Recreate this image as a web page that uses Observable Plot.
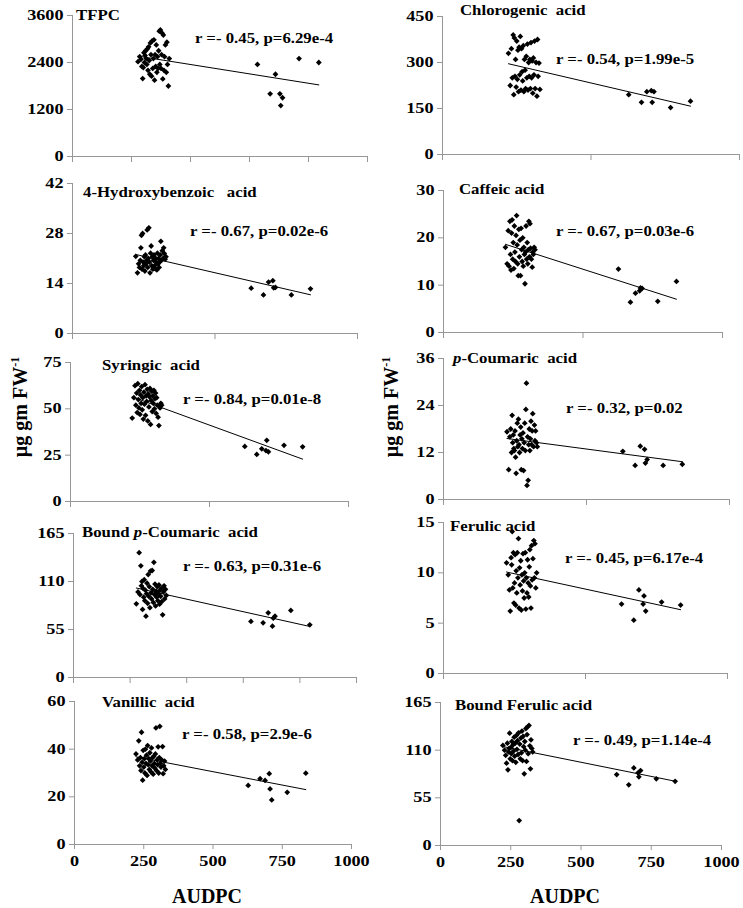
<!DOCTYPE html>
<html>
<head>
<meta charset="utf-8">
<script src="https://cdn.jsdelivr.net/npm/d3@7"></script>
<script src="https://cdn.jsdelivr.net/npm/@observablehq/plot@0.6"></script>
<style>
  body { margin: 0; background: #fff; }
  #chart { position: relative; width: 743px; height: 908px; overflow: hidden; background: #fff; }
</style>
</head>
<body>
<div id="chart"></div>
<script>
// ---------------- DATA ----------------
// AUDPC (shared x values for all genotypes)
const audpc = [222,228,232,235,238,240,242,244,246,248,250,252,254,256,258,260,262,264,266,268,270,272,274,276,278,280,282,284,286,288,290,292,294,296,298,300,302,304,306,308,310,312,315,318,320,322,325,328,
               627,670,688,703,706,712,768,835];

const tfpc = [2420,2550,2480,2300,1990,2270,2650,2400,2580,2700,2500,2350,2750,2200,2800,2450,2100,2900,2600,2050,2950,2250,2500,2980,1950,2600,2300,2850,2150,2550,2250,2700,3200,2350,3230,2250,2600,3150,1980,3100,2200,2550,2850,2150,2920,2350,1800,2500,
              2350,1600,2100,1600,1300,1500,2500,2400];
const chlorogenic = [330,225,345,250,390,195,380,255,310,220,370,245,340,205,350,260,385,210,345,270,240,355,205,310,275,215,320,250,360,210,300,255,310,215,365,250,305,200,315,260,370,215,300,190,375,255,298,212,
              195,170,205,208,170,205,153,174];
const hydroxybenzoic = [21.6,17.0,19.5,18.5,20.5,24.0,27.5,18.0,28.0,20.0,19.0,21.5,17.5,22.0,19.5,20.5,29.0,18.5,21.0,29.6,20.0,17.0,22.5,24.5,19.0,21.5,18.0,20.5,22.0,19.0,18.2,21.0,20.0,17.8,22.5,19.5,21.0,18.5,20.0,22.0,25.8,20.5,23.2,21.0,24.0,22.4,20.8,21.5,
              12.7,10.8,14.4,14.8,12.8,12.9,10.8,12.5];
const caffeic = [18.0,14.5,21.5,14.0,23.5,16.5,13.2,21.0,23.8,15.5,19.0,13.5,22.5,17.0,15.0,20.5,24.7,18.5,14.5,12.0,21.8,16.0,19.5,12.0,22.0,17.5,15.0,20.0,14.0,18.0,16.5,10.3,17.0,22.5,15.5,19.0,14.5,17.5,23.5,16.0,23.0,17.8,15.5,13.8,17.0,16.5,18.0,17.5,
              13.4,6.4,8.3,8.8,9.4,9.3,6.6,10.8];
const syringic = [45.0,56.0,62.5,52.0,58.5,48.0,63.6,55.0,50.5,60.0,47.0,57.5,53.0,62.0,49.5,56.0,44.5,59.0,52.5,63.0,46.5,57.0,54.0,60.5,43.5,58.0,51.0,56.5,61.0,41.6,54.5,59.5,48.5,57.0,53.0,60.0,50.0,55.5,58.5,47.5,56.0,52.0,45.5,41.0,51.5,50.5,53.0,52.0,
              29.7,25.4,28.4,27.5,33.0,26.8,30.3,29.5];
const pCoumaric = [17.3,7.6,16.0,18.0,12.0,21.5,14.5,16.5,13.0,12.5,17.5,10.8,6.7,15.0,19.5,13.5,20.5,14.0,12.0,16.5,18.5,7.6,15.5,13.0,17.0,7.4,14.5,19.5,12.5,23.0,29.7,3.6,16.0,4.9,14.0,18.0,12.5,15.5,20.0,14.0,17.5,21.9,13.5,19.0,15.0,17.5,14.5,13.5,
              12.3,8.7,13.6,12.8,9.3,10.2,8.7,9.0];
const boundPCoumaric = [84.4,98,143,95,128,105,110,78,102,92,112,88,100,70.3,96,108,85,118,93,104,80,122,97,90,122.6,101,86,132,95,107,82,99,92,104,88,96,106,84,100,93,102,87,71.8,98,105,90,101,94,
              64.2,62.6,74.1,58.8,68.0,70.3,76.8,60.4];
const ferulic = [11.0,9.8,8.3,6.2,11.5,10.8,14.1,8.5,12.0,7.0,9.0,11.8,6.8,10.2,8.0,12.0,9.5,13.4,6.5,10.5,8.8,11.2,6.3,9.8,8.2,11.9,9.2,7.5,10.0,12.0,6.4,9.5,8.0,11.3,9.0,7.6,10.6,12.3,8.7,6.5,12.7,9.3,11.4,13.2,9.5,12.9,8.5,10.0,
              6.9,5.3,8.3,6.9,7.7,6.2,7.1,6.8];
const vanillic = [38.0,35.5,43.5,33.0,36.5,31.0,47.1,34.5,27.0,39.5,32.5,36.0,30.0,40.0,34.0,37.5,29.0,41.5,33.5,36.0,31.5,38.5,35.0,30.5,40.5,33.0,36.5,29.5,37.0,34.0,32.0,38.0,48.9,31.0,35.5,33.5,41.0,30.0,36.5,49.6,34.0,32.5,35.5,41.1,29.7,33.0,35.0,31.5,
              24.8,27.6,26.9,29.7,23.3,18.7,21.9,29.9];
const boundFerulic = [115.4,110,104,95,118,87.3,108,112,129.6,100,113,106,120,98,116,109,125,103,118,96,127,111,121,105,130,28.8,117,100,124,107,132,98,126,114,82.7,120,110,135,97,128,137,106,138.5,115,88.5,122,112,108,
              81.9,70.0,89.5,83.8,79.2,86.5,77.0,74.1];

const titles = ["TFPC","Chlorogenic  acid","4-Hydroxybenzoic   acid","Caffeic acid","Syringic  acid",
                "<i>p</i>-Coumaric  acid","Bound <i>p</i>-Coumaric  acid","Ferulic acid","Vanillic  acid","Bound Ferulic acid"];
const stats = ["r =- 0.45, p=6.29e-4","r =- 0.54, p=1.99e-5","r =- 0.67, p=0.02e-6","r =- 0.67, p=0.03e-6","r =- 0.84, p=0.01e-8",
               "r =- 0.32, p=0.02","r =- 0.63, p=0.31e-6","r =- 0.45, p=6.17e-4","r =- 0.58, p=2.9e-6","r =- 0.49, p=1.14e-4"];
const yTickSets = [[0,1200,2400,3600],[0,150,300,450],[0,14,28,42],[0,10,20,30],[0,25,50,75],
                   [0,12,24,36],[0,55,110,165],[0,5,10,15],[0,20,40,60],[0,55,110,165]];
const xTicks200 = [0,200,400,600,800,1000];
const xTicks500 = [0,500,1000];
const xTicks250 = [0,250,500,750,1000];
const yLabel = "µg gm FW";
const yLabelSup = "-1";
const xLabel = "AUDPC";

const seriesValues = [tfpc, chlorogenic, hydroxybenzoic, caffeic, syringic, pCoumaric, boundPCoumaric, ferulic, vanillic, boundFerulic];
const xTickSets = [xTicks200, xTicks500, xTicks500, xTicks500, xTicks500, xTicks500, xTicks200, xTicks500, xTicks250, xTicks250];

// ---------------- LAYOUT (pixels) ----------------
const layout = [
  {col:0,   ax:72,  xe:367, yt:15,  yb:156, tx:76,  ty:20,  sx:195, sy:43,  lab:false},
  {col:372, ax:442, xe:739, yt:16,  yb:154, tx:460, ty:15,  sx:556, sy:64,  lab:false},
  {col:0,   ax:72,  xe:357, yt:183, yb:333, tx:83,  ty:197, sx:190, sy:236, lab:false},
  {col:372, ax:443, xe:722, yt:190, yb:332, tx:459, ty:194, sx:556, sy:236, lab:false},
  {col:0,   ax:70,  xe:348, yt:362, yb:501, tx:102, ty:370, sx:183, sy:404, lab:false},
  {col:372, ax:443, xe:729, yt:358, yb:499, tx:453, ty:363, sx:566, sy:413, lab:false},
  {col:0,   ax:73,  xe:356, yt:533, yb:677, tx:82,  ty:537, sx:183, sy:571, lab:false},
  {col:372, ax:443, xe:727, yt:522, yb:673, tx:450, ty:531, sx:565, sy:563, lab:false},
  {col:0,   ax:74,  xe:351, yt:701, yb:844, tx:102, ty:707, sx:182, sy:739, lab:true},
  {col:372, ax:440, xe:721, yt:702, yb:845, tx:455, ty:710, sx:573, sy:745, lab:true}
];

const FONT = '"Liberation Serif","Times New Roman",serif';
const AXIS = "#979797";
const root = document.getElementById("chart");

seriesValues.forEach((values, i) => {
  const L = layout[i];
  const data = audpc.map((x, j) => ({x, y: values[j]}));
  const yTicks = yTickSets[i];
  const mT = 10, mB = 34, mR = 12;
  const plot = Plot.plot({
    width: L.xe - L.col + mR,
    height: L.yb - L.yt + mT + mB,
    marginLeft: L.ax - L.col, marginRight: mR, marginTop: mT, marginBottom: mB,
    style: {background: "transparent", overflow: "visible", fontFamily: FONT},
    x: {domain: [0, 1000]},
    y: {domain: [0, d3.max(yTicks)]},
    marks: [
      Plot.ruleX([0], {stroke: AXIS, strokeWidth: 1}),
      Plot.ruleY([0], {stroke: AXIS, strokeWidth: 1}),
      Plot.axisY({ticks: yTicks, tickSize: 5, tickPadding: 4, stroke: AXIS, fill: "#000",
                  fontSize: 14, fontWeight: "bold", tickFormat: d => `${d}`, label: null}),
      L.lab
        ? Plot.axisX({ticks: xTickSets[i], tickSize: 5, tickPadding: 7, stroke: AXIS, fill: "#000",
                      fontSize: 14, fontWeight: "bold", tickFormat: d => `${d}`, label: null})
        : Plot.axisX({ticks: xTickSets[i], tickSize: 6, stroke: AXIS, fill: "none",
                      tickFormat: () => "", label: null}),
      Plot.linearRegressionY(data, {x: "x", y: "y", ci: 0, stroke: "#000", strokeWidth: 1}),
      Plot.dot(data, {x: "x", y: "y", symbol: "square", rotate: 45, r: 2.3, fill: "#000", stroke: "none"})
    ]
  });
  plot.style.position = "absolute";
  plot.style.left = L.col + "px";
  plot.style.top = (L.yt - mT) + "px";
  // widen tick labels horizontally like the reference's wide bold serif
  d3.select(plot).selectAll('g[aria-label$="tick label"] text').each(function() {
    const t = this.getAttribute("transform") || "";
    this.setAttribute("transform", t + " scale(1.3,1)");
  });
  root.appendChild(plot);
});

// ---------------- TEXT OVERLAY ----------------
const over = d3.create("svg")
  .attr("width", 743).attr("height", 908)
  .style("position", "absolute").style("left", "0px").style("top", "0px")
  .style("font-family", FONT).style("overflow", "visible");

function addRich(g, str) {
  const parts = str.split(/(<i>.*?<\/i>)/).filter(s => s.length);
  parts.forEach(s => {
    const m = s.match(/^<i>(.*)<\/i>$/);
    const ts = g.append("tspan").text(m ? m[1] : s);
    if (m) ts.attr("font-style", "italic");
  });
}

layout.forEach((L, i) => {
  const t = over.append("text")
    .attr("transform", `translate(${L.tx},${L.ty}) scale(1.2,1)`)
    .attr("font-size", 14).attr("font-weight", "bold").attr("fill", "#000")
    .style("white-space", "pre");
  addRich(t, titles[i]);
  over.append("text")
    .attr("transform", `translate(${L.sx},${L.sy}) scale(1.2,1)`)
    .attr("font-size", 14).attr("font-weight", "bold").attr("fill", "#000")
    .style("white-space", "pre")
    .text(stats[i]);
});

// y-axis titles for both columns
[[20, 407], [391, 407]].forEach(([cx, cy]) => {
  const t = over.append("text")
    .attr("transform", `translate(${cx + 7},${cy}) rotate(-90)`)
    .attr("text-anchor", "middle")
    .attr("font-size", 20).attr("font-weight", "bold").attr("fill", "#000");
  t.append("tspan").text(yLabel);
  t.append("tspan").attr("font-size", 12).attr("dy", -8).text(yLabelSup);
});

// x-axis titles
[[207, 903], [565, 903]].forEach(([cx, cy]) => {
  over.append("text")
    .attr("x", cx).attr("y", cy)
    .attr("text-anchor", "middle")
    .attr("font-size", 20).attr("font-weight", "bold").attr("fill", "#000")
    .text(xLabel);
});

root.appendChild(over.node());
</script>
</body>
</html>
